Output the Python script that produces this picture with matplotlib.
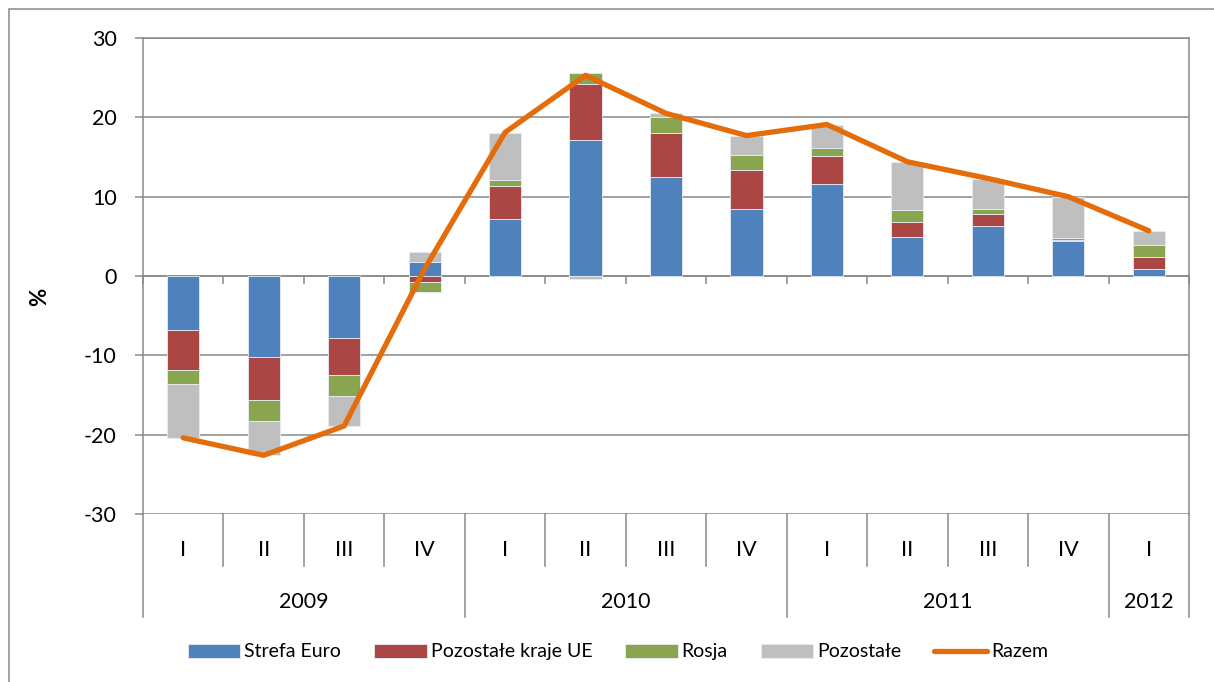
import numpy as np
import matplotlib
matplotlib.use("Agg")
import matplotlib.pyplot as plt
from matplotlib.patches import Rectangle

plt.rcParams['font.family'] = ['Lato', 'DejaVu Sans']
plt.rcParams['axes.unicode_minus'] = False

# ---------------------------------------------------
# data
# ---------------------------------------------------
quarters = ['I', 'II', 'III', 'IV', 'I', 'II', 'III', 'IV', 'I', 'II', 'III', 'IV', 'I']
years = ['2009', '2010', '2011', '2012']
year_counts = [4, 4, 4, 1]

strefa_euro = [-6.8, -10.25, -7.8, 1.8, 7.2, 17.1, 12.45, 8.5, 11.6, 4.9, 6.35, 4.35, 0.9]
pozostale_ue = [-5.0, -5.4, -4.7, -0.7, 4.2, 7.15, 5.55, 4.8, 3.55, 1.95, 1.5, 0.25, 1.55]
rosja = [-1.8, -2.65, -2.65, -1.35, 0.75, 1.4, 2.05, 1.9, 1.0, 1.5, 0.6, 0.25, 1.5]
pozostale = [-6.8, -4.3, -3.8, 1.2, 5.9, -0.4, 0.55, 2.5, 2.85, 6.0, 3.75, 5.1, 1.75]
razem = [-20.4, -22.6, -18.9, 0.9, 18.1, 25.3, 20.5, 17.7, 19.1, 14.4, 12.3, 10.0, 5.7]

series = [
    ("Strefa Euro", strefa_euro, "#4F81BD"),
    ("Pozostałe kraje UE", pozostale_ue, "#AA4644"),
    ("Rosja", rosja, "#8AA550"),
    ("Pozostałe", pozostale, "#BFBFBF"),
]
line_color = "#E46C0A"
grid_color = "#898989"

fig = plt.figure(figsize=(12.14, 6.82), dpi=100)
ax = fig.add_axes([143 / 1214, 1 - 514 / 682, 1046 / 1214, 476 / 682])

x = np.arange(len(quarters))

# ---------------------------------------------------
# stacked bars, positives up and negatives down (Excel style)
# ---------------------------------------------------
pos_base = np.zeros(len(x))
neg_base = np.zeros(len(x))
handles = []
for name, vals, col in series:
    v = np.array(vals)
    bottom = np.where(v >= 0, pos_base, neg_base)
    bars = ax.bar(x, v, width=0.4, bottom=bottom, color=col,
                  edgecolor="#E8ECF4", linewidth=0.6, zorder=3, label=name)
    pos_base = pos_base + np.where(v >= 0, v, 0)
    neg_base = neg_base + np.where(v < 0, v, 0)
    handles.append(bars)

ln, = ax.plot(x, razem, color=line_color, lw=3.8, zorder=5,
              solid_capstyle='round', solid_joinstyle='round', label="Razem")

# ---------------------------------------------------
# axes styling
# ---------------------------------------------------
ax.set_xlim(-0.5, len(x) - 0.5)
ax.set_ylim(-30, 30)
ax.set_yticks(np.arange(-30, 31, 10))
ax.yaxis.grid(True, color=grid_color, lw=1.1, zorder=0)
ax.set_axisbelow(True)

for s in ['left', 'right', 'top', 'bottom']:
    ax.spines[s].set_color(grid_color)
    ax.spines[s].set_linewidth(1.1)
ax.spines['bottom'].set_position(('data', 0))
ax.spines['bottom'].set_zorder(2)

ax.set_xticks(np.arange(-0.5, len(x), 1))
ax.tick_params(axis='x', direction='out', length=6, width=1.1,
               color=grid_color, labelbottom=False)
ax.tick_params(axis='y', direction='out', length=6, width=1.1,
               color=grid_color, labelsize=15.5, pad=13)

ax.set_ylabel('%', fontsize=16, fontweight='bold')
ax.yaxis.set_label_coords(-0.089, 0.456)

# ---------------------------------------------------
# multi-level category labels
# ---------------------------------------------------
tr = ax.get_xaxis_transform()
q_y = (514 - 550) / 476
y_y = (514 - 602) / 476
q_sep = (514 - 566) / 476
y_sep = (514 - 617) / 476

for i, q in enumerate(quarters):
    ax.text(i, q_y, q, transform=tr, ha='center', va='center', fontsize=15.5)

year_edges = np.concatenate([[0], np.cumsum(year_counts)]) - 0.5
for k in range(len(x) + 1):
    b = k - 0.5
    low = y_sep if b in year_edges else q_sep
    ax.plot([b, b], [0, low], transform=tr, color=grid_color, lw=1.1, clip_on=False)

for yr, a, b in zip(years, year_edges[:-1], year_edges[1:]):
    ax.text((a + b) / 2, y_y, yr, transform=tr, ha='center', va='center', fontsize=15.5)

# ---------------------------------------------------
# legend and outer border
# ---------------------------------------------------
fig.legend(handles + [ln], [s[0] for s in series] + ["Razem"],
           loc='center', bbox_to_anchor=(0.509, 0.044), ncol=5, frameon=False,
           fontsize=14, handlelength=2.7, handleheight=0.72, handletextpad=0.2,
           columnspacing=1.7)

fig.patches.append(Rectangle((9 / 1214, -0.1), 1.2, 1.1 - 9 / 682,
                             transform=fig.transFigure, fill=False,
                             edgecolor=grid_color, lw=1.1))

fig.savefig("out.png", dpi=100)
